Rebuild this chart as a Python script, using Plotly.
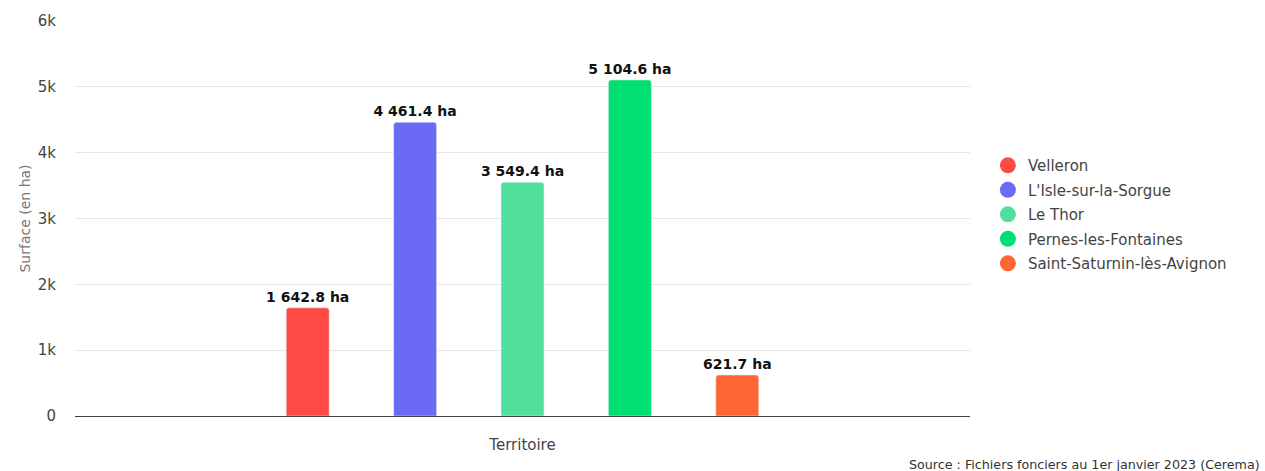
import plotly.graph_objects as go

communes = ["Velleron", "L'Isle-sur-la-Sorgue", "Le Thor", "Pernes-les-Fontaines", "Saint-Saturnin-lès-Avignon"]
surfaces = [1642.8, 4461.4, 3549.4, 5104.6, 621.7]
couleurs = ["#FD4A44", "#6A6AF4", "#50E09C", "#00E070", "#FF6634"]
categorie = ["Territoire"]
y_ticks = [0, 1000, 2000, 3000, 4000, 5000, 6000]

FONT = "DejaVu Sans, sans-serif"

fig = go.Figure()
for nom, val, col in zip(communes, surfaces, couleurs):
    fig.add_trace(go.Bar(
        x=categorie, y=[val], name=nom, marker_color=col,
        showlegend=False, legendgroup=nom,
        texttemplate="<b>%{y:,.1f} ha</b>", textposition="outside",
        constraintext="none",
        textfont=dict(family=FONT, size=14, color="#111"),
        cliponaxis=False,
    ))
    # round legend marker
    fig.add_trace(go.Scatter(
        x=[None], y=[None], mode="markers", name=nom, legendgroup=nom,
        marker=dict(color=col, size=16, symbol="circle"),
    ))

fig.update_layout(
    width=1265, height=471,
    margin=dict(l=75, r=295, t=21, b=55),
    paper_bgcolor="white", plot_bgcolor="white",
    separators=". ",
    barmode="group", bargap=0.4, bargroupgap=0.6, barcornerradius=3,
    font=dict(family=FONT, size=14, color="#444"),
    legend=dict(x=1.02, xanchor="left", y=0.51, yanchor="middle",
                font=dict(size=15, color="#444"), tracegroupgap=2,
                itemsizing="trace"),
    annotations=[dict(
        text="Source : Fichiers fonciers au 1er janvier 2023 (Cerema)",
        xref="paper", yref="paper", x=1.3265, y=-0.122,
        xanchor="right", yanchor="middle", showarrow=False,
        font=dict(size=12.7, color="#333"),
    )],
)
fig.update_xaxes(type="category", showticklabels=False, ticks="",
                 title=dict(text="Territoire", font=dict(size=15, color="#444"), standoff=23))
fig.update_yaxes(range=[0, 6000], tickvals=y_ticks,
                 ticktext=["0", "1k", "2k", "3k", "4k", "5k", "6k"],
                 gridcolor="#e6e6e6", zeroline=True, zerolinecolor="#444", zerolinewidth=1,
                 tickfont=dict(size=15, color="#444"), ticks="", ticklabelstandoff=18,
                 title=dict(text="Surface (en ha)", font=dict(size=14, color="#777"), standoff=3))

fig.write_html("out.html")
